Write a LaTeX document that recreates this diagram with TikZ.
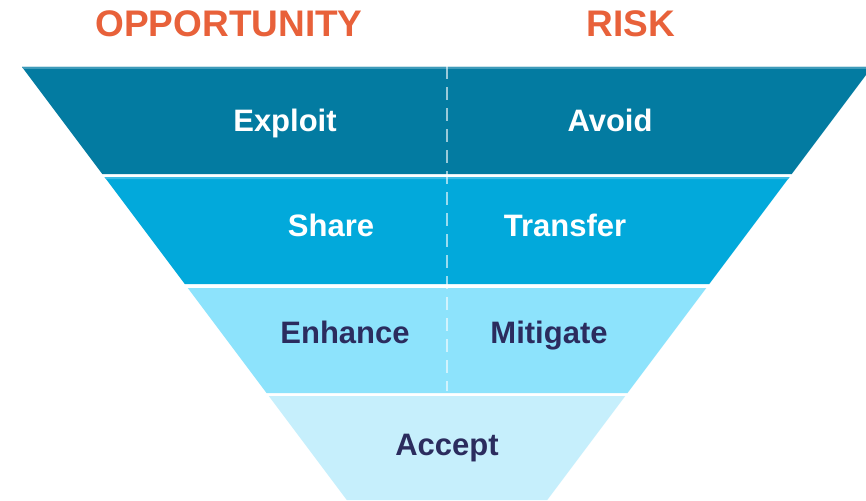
\documentclass[tikz,border=0pt]{standalone}
\usepackage{fontspec}
\setmainfont{Liberation Sans}
\definecolor{bandA}{HTML}{037BA1}
\definecolor{bandAtop}{HTML}{3E9BBA}
\definecolor{bandB}{HTML}{02A9DB}
\definecolor{bandBtop}{HTML}{3CBDE6}
\definecolor{bandC}{HTML}{8DE3FC}
\definecolor{bandD}{HTML}{C6EFFC}
\definecolor{headorange}{HTML}{E8613A}
\definecolor{darknavy}{HTML}{2B2C5E}
\tikzset{
  heading/.style={font=\bfseries\fontsize{37}{42}\selectfont, text=headorange, anchor=base, inner sep=0pt},
  lightlbl/.style={font=\bfseries\fontsize{31}{36}\selectfont, text=white, anchor=base, inner sep=0pt},
  darklbl/.style={font=\bfseries\fontsize{31}{36}\selectfont, text=darknavy, anchor=base, inner sep=0pt},
  divider/.style={draw=white, draw opacity=0.6, line width=2.6pt, dash pattern=on 13pt off 8pt}
}
\begin{document}
\begin{tikzpicture}[x=1pt,y=-1pt]
\useasboundingbox (0,0) rectangle (866,500);
\fill[white] (0,0) rectangle (866,500);
% bands
\fill[bandA] (22,67) -- (872,67) -- (791.75,174) -- (102.25,174) -- cycle;
\fill[bandAtop] (22,67) -- (872,67) -- (870.5,69) -- (23.5,69) -- cycle;
\fill[bandB] (104.5,177) -- (789.5,177) -- (709.25,284) -- (184.75,284) -- cycle;
\fill[bandBtop] (104.5,177) -- (789.5,177) -- (788,179) -- (106,179) -- cycle;
\fill[bandC] (187.75,288) -- (706.25,288) -- (627.5,393) -- (266.5,393) -- cycle;
\fill[bandD] (268.75,396) -- (625.25,396) -- (547.25,500) -- (346.75,500) -- cycle;
% divider
\coordinate (dtop) at (447,66);
\coordinate (dbot) at (447,391);
\draw[divider] (dtop) -- (dbot);
% headings
\node[heading] (opp) at (229,37) {OPPORTUNITY};
\node[heading] (risk) at (631,37) {RISK};
% labels
\node[lightlbl] (exploit) at (285,131) {Exploit};
\node[lightlbl] (avoid) at (610,131) {Avoid};
\node[lightlbl] (share) at (331,236) {Share};
\node[lightlbl] (transfer) at (565,236) {Transfer};
\node[darklbl] (enhance) at (345,343) {Enhance};
\node[darklbl] (mitigate) at (549,343) {Mitigate};
\node[darklbl] (accept) at (447,455) {Accept};
\end{tikzpicture}
\end{document}
